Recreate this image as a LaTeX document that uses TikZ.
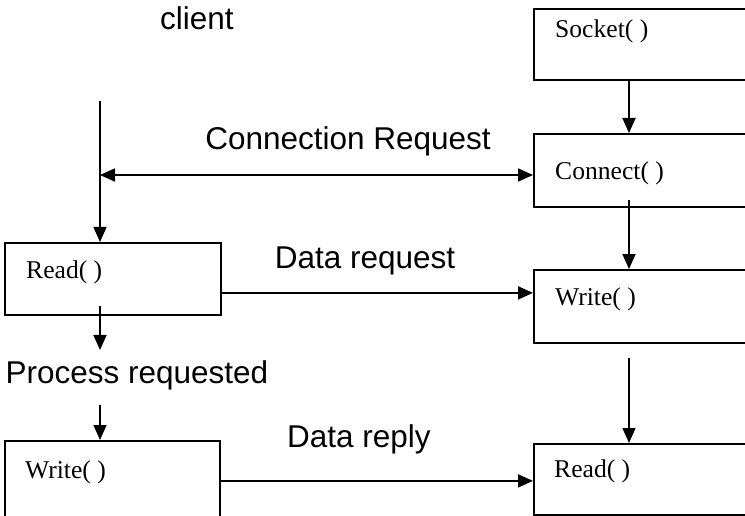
\documentclass[tikz,border=0pt]{standalone}
\usepackage{fontspec}
\setmainfont{Liberation Serif}
\setsansfont{Liberation Sans}
\usetikzlibrary{arrows.meta,calc}
\tikzset{
  box/.style={draw,line width=1.8pt,anchor=north west,inner sep=0pt},
  fn/.style={anchor=base west,inner sep=0pt,font=\fontsize{25.6}{30}\selectfont},
  msg/.style={anchor=base,inner sep=0pt,font=\fontsize{31.5}{36}\sffamily},
  flow/.style={->,line width=1.8pt},
  thinflow/.style={->,line width=1.1pt}
}

\begin{document}
\begin{tikzpicture}[x=1pt,y=-1pt,>={Triangle[length=15pt,width=13pt]}]
  \useasboundingbox (0,0) rectangle (745,516);
  \fill[white] (0,0) rectangle (745,516);
  \clip (0,0) rectangle (745,516);
  % server side (right)
  \node[box,minimum width=240pt,minimum height=71pt] (sock) at (533,8) {};
  \node[box,minimum width=240pt,minimum height=73pt] (con) at (533,133) {};
  \node[box,minimum width=240pt,minimum height=73pt] (wrs) at (533,269) {};
  \node[box,minimum width=240pt,minimum height=71pt] (rds) at (533,443) {};
  \node[fn] (tsock) at (555,38) {Socket( )};
  \node[fn] (tcon) at (555,180) {Connect( )};
  \node[fn] (twrs) at (555,305) {Write( )};
  \node[fn] (trds) at (554,477) {Read( )};
  % client side (left)
  \node[box,minimum width=216pt,minimum height=72pt] (rdc) at (4,242) {};
  \node[box,minimum width=215pt,minimum height=90pt] (wrc) at (4,440) {};
  \node[fn] (trdc) at (26,278) {Read( )};
  \node[fn] (twrc) at (25,478) {Write( )};
  % labels
  \node[msg] (client) at (197,30) {client};
  \node[msg] (creq) at (348,150) {Connection Request};
  \node[msg] (dreq) at (365,268) {Data request};
  \node[msg] (proc) at (137,383) {Process requested};
  \node[msg] (drep) at (359,447) {Data reply};
  % helper points
  \coordinate (xr) at (629,0);
  \coordinate (cl) at (100,101);
  \coordinate (cj) at (100,175);
  % vertical flows
  \draw[flow] (sock.south -| xr) -- (con.north -| xr);
  \draw[flow] ($(con.south -| xr)+(0,-8)$) -- (wrs.north -| xr);
  \draw[thinflow] ($(wrs.south -| xr)+(0,14)$) -- (rds.north -| xr);
  \draw[->,line width=1.4pt] (cl) -- (cl |- rdc.north);
  \draw[flow,shorten >=10pt] ($(rdc.south -| cl)+(0,-10)$) -- (proc.north -| cl);
  \draw[thinflow,shorten <=15pt] (proc.south -| cl) -- (wrc.north -| cl);
  % messages
  \draw[<->,line width=1.8pt] (cj) -- (con.west |- cj);
  \draw[flow] ($(rdc.east)+(0,14)$) coordinate (dr) -- (dr -| wrs.west);
  \draw[flow] ($(wrc.east)+(0,-5)$) coordinate (dy) -- (dy -| rds.west);
\end{tikzpicture}
\end{document}
